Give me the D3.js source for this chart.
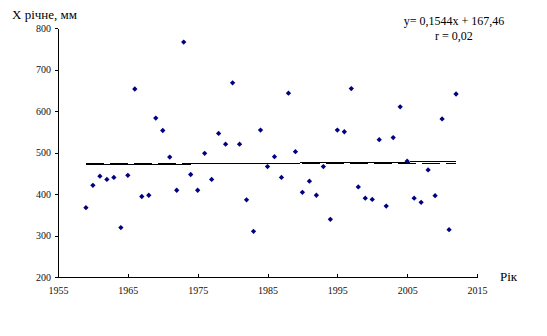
<!DOCTYPE html>
<html>
<head>
<meta charset="utf-8">
<script src="https://cdn.jsdelivr.net/npm/d3@7"></script>
<style>
  body { margin: 0; background: #fff; }
  svg { display: block; }
  svg text { font-family: "Liberation Serif", "Times New Roman", "DejaVu Serif", serif; }
</style>
</head>
<body>
<svg id="chart" width="547" height="336"></svg>
<script>
// annual precipitation, mm
const years = [
  1959, 1960, 1961, 1962, 1963, 1964, 1965, 1966, 1967, 1968,
  1969, 1970, 1971, 1972, 1973, 1974, 1975, 1976, 1977, 1978,
  1979, 1980, 1981, 1982, 1983, 1984, 1985, 1986, 1987, 1988,
  1989, 1990, 1991, 1992, 1993, 1994, 1995, 1996, 1997, 1998,
  1999, 2000, 2001, 2002, 2003, 2004, 2005, 2006, 2007, 2008,
  2009, 2010, 2011, 2012,
];
const values = [
  367, 421, 443, 435, 440, 319, 445, 653, 394, 397,
  583, 553, 489, 409, 766, 447, 409, 498, 435, 546,
  520, 668, 520, 386, 310, 554, 466, 490, 440, 643,
  502, 404, 431, 397, 466, 339, 554, 550, 654, 417,
  390, 387, 531, 371, 536, 610, 479, 390, 380, 458,
  396, 581, 314, 641,
];
const xTicks = [1955, 1965, 1975, 1985, 1995, 2005, 2015];
const yTicks = [200, 300, 400, 500, 600, 700, 800];
// trend line as printed on the chart
const trendSlope = 0.1544;
const trendIntercept = 167.46;
const equationLines = ['y= 0,1544x + 167,46', 'r = 0,02'];

const svg = d3.select('#chart');
const x = d3.scaleLinear().domain([1955, 2015]).range([58, 477]);
const y = d3.scaleLinear().domain([200, 800]).range([277, 28]);

const points = years.map((yr, i) => ({ year: yr, value: values[i] }));

// x axis, ticks pointing up
const xAxis = svg.append('g')
  .attr('transform', `translate(0,${y(200)})`)
  .call(d3.axisBottom(x).tickValues(xTicks).tickFormat(d3.format('d')).tickSizeInner(-3).tickSizeOuter(0).tickPadding(10));
xAxis.attr('font-family', null);
xAxis.select('.domain').attr('stroke', '#000').attr('shape-rendering', 'crispEdges');
xAxis.selectAll('line').attr('stroke', '#000').attr('shape-rendering', 'crispEdges');
xAxis.selectAll('text').attr('font-size', 10).attr('fill', '#111');

// y axis
const yAxis = svg.append('g')
  .attr('transform', `translate(${x(1955)},0)`)
  .call(d3.axisLeft(y).tickValues(yTicks).tickSizeInner(3).tickSizeOuter(0).tickPadding(4));
yAxis.attr('font-family', null);
yAxis.select('.domain').attr('stroke', '#000').attr('shape-rendering', 'crispEdges');
yAxis.selectAll('line').attr('stroke', '#000').attr('shape-rendering', 'crispEdges');
yAxis.selectAll('text').attr('font-size', 10).attr('fill', '#111');

// mean line (dashed)
const mean = d3.mean(values);
const yearExtent = d3.extent(years);
svg.append('line')
  .attr('x1', x(yearExtent[0])).attr('x2', x(yearExtent[1]))
  .attr('y1', y(mean)).attr('y2', y(mean))
  .attr('stroke', '#000').attr('stroke-width', 1)
  .attr('shape-rendering', 'crispEdges')
  .attr('stroke-dasharray', '18,6');

// linear trend (solid)
const trend = d3.line().x(d => x(d)).y(d => y(trendSlope * d + trendIntercept));
svg.append('path')
  .datum(yearExtent)
  .attr('d', trend)
  .attr('fill', 'none')
  .attr('stroke', '#000')
  .attr('shape-rendering', 'crispEdges')
  .attr('stroke-width', 1);

// points
svg.append('g').selectAll('path')
  .data(points)
  .join('path')
  .attr('transform', d => `translate(${x(d.year)},${y(d.value)}) rotate(45)`)
  .attr('d', d3.symbol(d3.symbolSquare, 14))
  .attr('fill', '#000080');

// labels
svg.append('text')
  .attr('x', 12).attr('y', 19)
  .attr('font-size', 13)
  .attr('fill', '#000')
  .text('X річне, мм');

svg.append('text')
  .attr('x', 500).attr('y', 281)
  .attr('font-size', 13)
  .attr('fill', '#000')
  .text('Рік');

svg.append('g').selectAll('text')
  .data(equationLines)
  .join('text')
  .attr('x', 454)
  .attr('y', (d, i) => 25 + i * 15)
  .attr('text-anchor', 'middle')
  .attr('font-size', 12)
  .attr('fill', '#000')
  .text(d => d);
</script>
</body>
</html>
